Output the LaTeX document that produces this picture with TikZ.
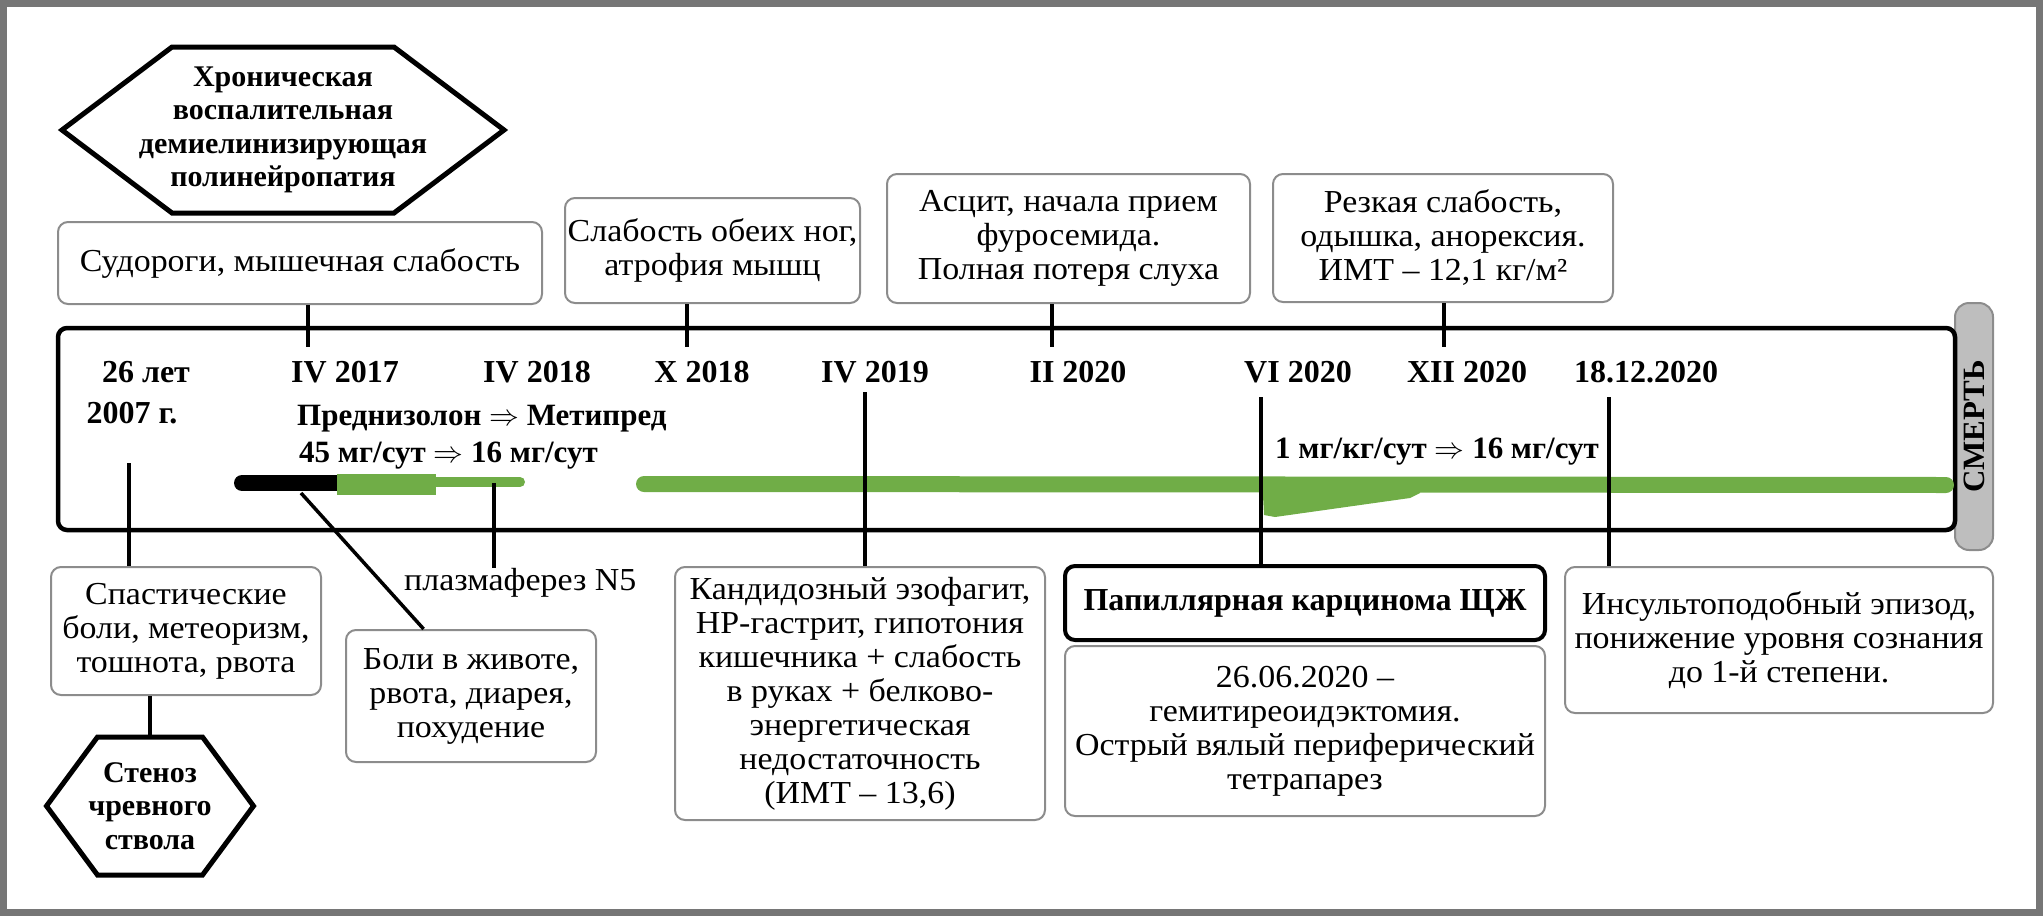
\documentclass[tikz,border=0pt]{standalone}
\usepackage{fontspec}
\setmainfont{Liberation Serif}
\newfontfamily\wideserif{Liberation Serif}[FakeStretch=1.06]
\usetikzlibrary{calc}
\definecolor{rxgreen}{RGB}{112,173,71}
\definecolor{boxgray}{RGB}{140,140,140}
\definecolor{pillgray}{RGB}{190,190,190}
\definecolor{framegray}{RGB}{118,118,118}
\newcommand{\dosearrow}{\scalebox{1.2}{$\Rightarrow$}}
\tikzset{
  evbox/.style={draw=boxgray,line width=2pt,rounded corners=10pt,fill=white,align=center,inner sep=0pt,font=\wideserif\fontsize{32}{34}\selectfont},
  keybox/.style={evbox,draw=black,line width=4pt,font=\bfseries\fontsize{32}{34}\selectfont},
  datelab/.style={anchor=base,inner sep=0pt,font=\bfseries\fontsize{32}{34}\selectfont},
  doselab/.style={anchor=base west,inner sep=0pt,font=\bfseries\fontsize{31}{34}\selectfont},
  tick/.style={line width=3.5pt},
  rxbar/.style={draw=rxgreen,line cap=round},
  hexlab/.style={align=center,inner sep=0pt,font=\bfseries\fontsize{30}{33.5}\selectfont}
}
\newcommand{\hexnode}[6]{
  \node[hexlab] (#1) at #2 {#6};
  \coordinate (#1-top) at ($(#1.center)+(0,-#4)$);
  \draw[line width=5pt,line join=miter]
    ($(#1.center)+(-#3,0)$) -- ($(#1.center)+(-#3+#5,-#4)$) -- ($(#1.center)+(#3-#5,-#4)$)
    -- ($(#1.center)+(#3,0)$) -- ($(#1.center)+(#3-#5,#4)$) -- ($(#1.center)+(-#3+#5,#4)$) -- cycle;
}

\begin{document}
\begin{tikzpicture}[x=1pt,y=-1pt]
  \useasboundingbox (0,0) rectangle (2043,916);
  \draw[framegray,line width=7pt] (3.5,3.5) rectangle (2039.5,912.5);

  % ================= шкала времени =================
  \node[draw=boxgray,fill=pillgray,line width=2pt,rounded corners=14pt,rotate=90,minimum width=247pt,
        minimum height=38pt,inner sep=0pt,font=\bfseries\fontsize{31}{31}\selectfont] (death) at (1974,426.5) {СМЕРТЬ};
  \node[draw,line width=4.5pt,rounded corners=9pt,minimum width=1897pt,minimum height=202pt,inner sep=0pt] (tl) at (1006.5,429) {};

  % терапия: преднизолон / метипред
  \draw[rxbar,draw=black,line width=16pt] (242,483) -- (337,483);
  \draw[rxbar,line width=21pt,line cap=butt] (337,484.5) -- (436,484.5);
  \draw[rxbar,line width=10pt] (436,482) -- (520,482);
  \draw[rxbar,line width=16pt] (644,484) -- (1946,485);
  \fill[rxgreen] (1262,477) -- (1420,477) -- (1420,493) -- (1410,498) -- (1275,517) -- (1264,515) -- cycle;

  \node[datelab] (dAge) at (146,382) {26 лет};
  \node[datelab] (dY07) at (132,423) {2007 г.};
  \node[datelab] (d1704) at (345,382) {IV 2017};
  \node[datelab] (d1804) at (537,382) {IV 2018};
  \node[datelab] (d1810) at (702,382) {X 2018};
  \node[datelab] (d1904) at (875,382) {IV 2019};
  \node[datelab] (d2002) at (1078,382) {II 2020};
  \node[datelab] (d2006) at (1298,382) {VI 2020};
  \node[datelab] (d2012) at (1467,382) {XII 2020};
  \node[datelab] (dEnd) at (1646,382) {18.12.2020};

  \node[doselab] (rx1) at (297,425) {Преднизолон \dosearrow{} Метипред};
  \node[doselab] (rx2) at (299,462) {45 мг/сут \dosearrow{} 16 мг/сут};
  \node[doselab] (rx3) at (1275,458) {1 мг/кг/сут \dosearrow{} 16 мг/сут};
  \node[anchor=base west,inner sep=0pt,font=\wideserif\fontsize{32}{34}\selectfont] (plasma) at (404,590) {плазмаферез N5};

  % ================= события над шкалой =================
  \node[evbox,minimum width=484pt,minimum height=82pt] (cramp) at (300,263) {Судороги, мышечная слабость};
  \node[evbox,minimum width=295pt,minimum height=105pt] (legs) at (712.5,250.5) {Слабость обеих ног,\\ атрофия мышц};
  \node[evbox,minimum width=363pt,minimum height=129pt] (ascites) at (1068.5,238.5) {Асцит, начала прием\\ фуросемида.\\ Полная потеря слуха};
  \node[evbox,minimum width=340pt,minimum height=128pt] (cachexia) at (1443,238) {Резкая слабость,\\ одышка, анорексия.\\ ИМТ – 12,1 кг/м²};
  \hexnode{cidp}{(283,130)}{221}{83}{110}{Хроническая\\ воспалительная\\ демиелинизирующая\\ полинейропатия}

  % ================= события под шкалой =================
  \node[evbox,minimum width=270pt,minimum height=128pt] (spastic) at (186,631) {Спастические\\ боли, метеоризм,\\ тошнота, рвота};
  \node[evbox,minimum width=250pt,minimum height=132pt] (abdpain) at (471,696) {Боли в животе,\\ рвота, диарея,\\ похудение};
  \node[evbox,minimum width=370pt,minimum height=253pt] (candida) at (860,693.5) {Кандидозный эзофагит,\\ HP-гастрит, гипотония\\ кишечника + слабость\\ в руках + белково-\\ энергетическая\\ недостаточность\\ (ИМТ – 13,6)};
  \node[keybox,minimum width=480pt,minimum height=74pt] (papca) at (1305,603) {Папиллярная карцинома ЩЖ};
  \node[evbox,minimum width=480pt,minimum height=170pt] (thyroid) at (1305,731) {26.06.2020 –\\ гемитиреоидэктомия.\\ Острый вялый периферический\\ тетрапарез};
  \node[evbox,minimum width=428pt,minimum height=146pt] (stroke) at (1779,640) {Инсультоподобный эпизод,\\ понижение уровня сознания\\ до 1-й степени.};
  \hexnode{stenosis}{(150,806)}{103.5}{69}{51}{Стеноз\\ чревного\\ ствола}

  % ================= выноски =================
  \coordinate (t1704) at (308,347);
  \coordinate (t1810) at (687,347);
  \coordinate (t2002) at (1052,347);
  \coordinate (t2012) at (1444,347);
  \draw[tick] (cramp.south -| t1704) -- (t1704);
  \draw[tick] (legs.south -| t1810) -- (t1810);
  \draw[tick] (ascites.south -| t2002) -- (t2002);
  \draw[tick] (cachexia.south -| t2012) -- (t2012);

  \coordinate (t2007) at (129,463);
  \coordinate (tPlasma) at (494,483);
  \coordinate (tBlack) at (301,493);
  \coordinate (t1904) at (865,392);
  \coordinate (t2006) at (1261,397);
  \coordinate (tEnd) at (1609,397);
  \draw[tick] (t2007) -- (t2007 |- spastic.north);
  \draw[tick] (tPlasma) -- (tPlasma |- plasma.north);
  \draw[tick] (tBlack) -- ($(abdpain.north west)!0.312!(abdpain.north east)$);
  \draw[tick] (t1904) -- (t1904 |- candida.north);
  \draw[tick] (t2006) -- (t2006 |- papca.north);
  \draw[tick] (tEnd) -- (tEnd |- stroke.north);
  \draw[tick] (stenosis-top) -- (stenosis-top |- spastic.south);
\end{tikzpicture}
\end{document}
